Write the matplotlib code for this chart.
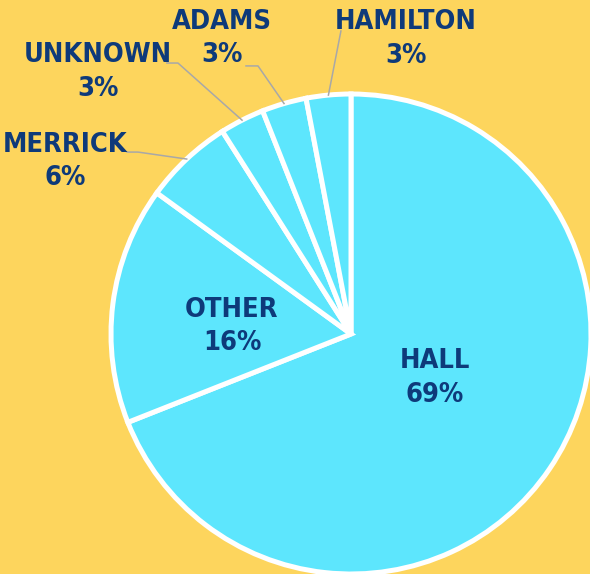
import numpy as np
import matplotlib
matplotlib.use("Agg")
import matplotlib.pyplot as plt
from matplotlib import font_manager

# data
names = ["HALL", "OTHER", "MERRICK", "UNKNOWN", "ADAMS", "HAMILTON"]
shares = [69, 16, 6, 3, 3, 3]

bg = "#FDD55D"
fill = "#5DE6FD"
navy = "#0E3A7A"
grey = "#A8A8A8"

# want a condensed bold face if one is there
fp = font_manager.FontProperties(family="DejaVu Sans", stretch="condensed", weight="bold")
path = font_manager.findfont(fp)
condensed = "Condensed" in path
fsize = 19.5 if condensed else 17

fig = plt.figure(figsize=(5.9, 5.74), dpi=100, facecolor=bg)
ax = fig.add_axes([111 / 590, 0, 480 / 590, 480 / 574])
ax.set_facecolor(bg)

wedges, _ = ax.pie(shares, startangle=90, counterclock=False, radius=1,
                   colors=[fill] * len(shares),
                   wedgeprops=dict(edgecolor="white", linewidth=3.6))
ax.set_xlim(-1, 1)
ax.set_ylim(-1, 1)
ax.set_aspect("equal")
ax.axis("off")

# label placement (data units, pie radius = 1)
label_pos = {
    "HALL": (0.35, -0.183),
    "OTHER": (-0.496, 0.031),
    "MERRICK": (-1.192, 0.719),
    "UNKNOWN": (-1.056, 1.092),
    "ADAMS": (-0.5375, 1.231),
    "HAMILTON": (0.229, 1.229),
}
# leader path after the pie point: elbow, end
leaders = {
    "MERRICK": [(-0.8875, 0.758), (-0.933, 0.758)],
    "UNKNOWN": [(-0.721, 1.129), (-0.767, 1.129)],
    "ADAMS": [(-0.3875, 1.117), (-0.4375, 1.117)],
    "HAMILTON": [(-0.042, 1.2625)],
}

for w, name, s in zip(wedges, names, shares):
    x, y = label_pos[name]
    ax.text(x, y, f"{name}\n{s}%", ha="center", va="center",
            multialignment="center", color=navy, fontsize=fsize,
            fontproperties=fp if condensed else None, fontweight="bold",
            linespacing=1.38, clip_on=False)
    if name in leaders:
        mid = np.deg2rad((w.theta1 + w.theta2) / 2)
        pts = [(np.cos(mid), np.sin(mid))] + leaders[name]
        xs, ys = zip(*pts)
        ax.plot(xs, ys, color=grey, lw=1.1, clip_on=False)

fig.savefig("out.png", dpi=100, facecolor=bg)
